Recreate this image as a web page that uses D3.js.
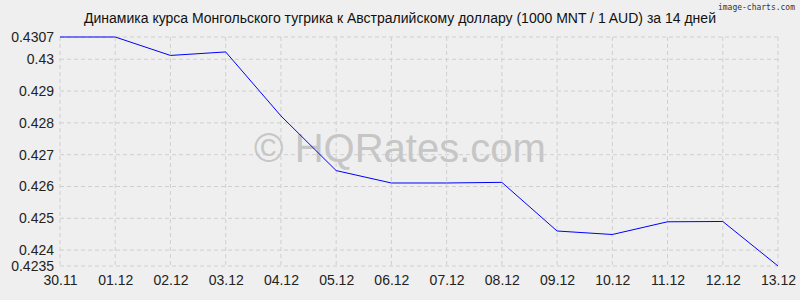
<!DOCTYPE html>
<html>
  <head>
    <meta charset="UTF-8">
    <title>MNT / AUD</title>
    <script src="https://d3js.org/d3.v7.min.js"></script>
    <style>
      body { margin: 0; background: #efefef; }
      svg { display: block; font-family: "Liberation Sans", Arial, sans-serif; }
    </style>
  </head>
  <body>
    <svg id="chart" width="800" height="300"></svg>
    <script>
      const dates = ['30.11', '01.12', '02.12', '03.12', '04.12', '05.12', '06.12',
        '07.12', '08.12', '09.12', '10.12', '11.12', '12.12', '13.12'];
      const rates = [0.4307, 0.4307, 0.43012, 0.43023, 0.42822, 0.42650, 0.42611,
        0.42611, 0.42613, 0.42460, 0.42449, 0.42489, 0.42490, 0.4235];
      const yTicks = [0.4235, 0.424, 0.425, 0.426, 0.427, 0.428, 0.429, 0.43, 0.4307];

      const svg = d3.select('#chart');
      const width = 800, height = 300;
      const margin = { top: 37, right: 22, bottom: 34, left: 60 };

      svg.append('rect')
        .attr('width', width)
        .attr('height', height)
        .attr('fill', '#efefef');

      const x = d3.scalePoint()
        .domain(dates)
        .range([margin.left, width - margin.right]);

      const y = d3.scaleLinear()
        .domain([0.4235, 0.4307])
        .range([height - margin.bottom, margin.top]);

      // grid
      svg.append('g')
        .selectAll('line')
        .data(dates)
        .join('line')
        .attr('x1', d => x(d)).attr('x2', d => x(d))
        .attr('y1', margin.top).attr('y2', height - margin.bottom)
        .attr('stroke', '#cfcfcf')
        .attr('stroke-dasharray', '4,3');

      svg.append('g')
        .selectAll('line')
        .data(yTicks)
        .join('line')
        .attr('x1', margin.left).attr('x2', width - margin.right)
        .attr('y1', d => y(d)).attr('y2', d => y(d))
        .attr('stroke', '#cfcfcf')
        .attr('stroke-dasharray', '4,3');

      // watermark
      svg.append('text')
        .attr('x', 400)
        .attr('y', 162)
        .attr('text-anchor', 'middle')
        .attr('font-size', 40)
        .attr('fill', '#c6c6c6')
        .text('© HQRates.com');

      // axes
      const yAxis = d3.axisLeft(y)
        .tickValues(yTicks)
        .tickFormat(d => String(+d.toFixed(4)))
        .tickSize(0)
        .tickPadding(6);

      svg.append('g')
        .attr('transform', `translate(${margin.left},0)`)
        .call(yAxis)
        .call(g => g.select('.domain').remove())
        .call(g => g.selectAll('text')
          .attr('font-size', 14)
          .attr('fill', '#222')
          .attr('font-family', '"Liberation Sans", Arial, sans-serif'));

      const xAxis = d3.axisBottom(x)
        .tickSize(0)
        .tickPadding(9);

      svg.append('g')
        .attr('transform', `translate(0,${height - margin.bottom})`)
        .call(xAxis)
        .call(g => g.select('.domain').remove())
        .call(g => g.selectAll('text')
          .attr('font-size', 14)
          .attr('fill', '#222')
          .attr('font-family', '"Liberation Sans", Arial, sans-serif'));

      // line
      const line = d3.line()
        .x((d, i) => x(dates[i]))
        .y(d => y(d));

      svg.append('path')
        .datum(rates)
        .attr('fill', 'none')
        .attr('stroke', '#0000ff')
        .attr('stroke-width', 1)
        .attr('d', line);

      // title
      svg.append('text')
        .attr('x', 400)
        .attr('y', 23)
        .attr('text-anchor', 'middle')
        .attr('font-size', 14)
        .attr('fill', '#111')
        .text('Динамика курса Монгольского тугрика к Австралийскому доллару (1000 MNT / 1 AUD) за 14 дней');

      svg.append('text')
        .attr('x', 795)
        .attr('y', 10)
        .attr('text-anchor', 'end')
        .attr('font-size', 8)
        .attr('font-family', '"DejaVu Sans Mono", monospace')
        .attr('fill', '#333')
        .text('image-charts.com');
    </script>
  </body>
</html>
